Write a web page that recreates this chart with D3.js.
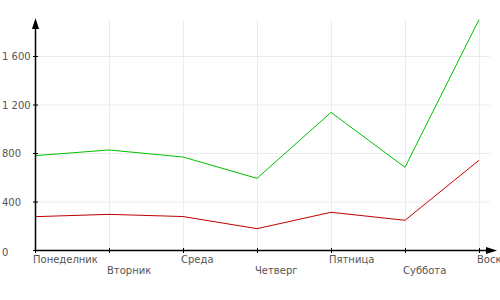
<!DOCTYPE html>
<html>
<head>
<meta charset="utf-8">
<script src="https://cdn.jsdelivr.net/npm/d3@7"></script>
<style>
  body { margin: 0; background: #fff; }
  text { font-family: "DejaVu Sans", Verdana, sans-serif; font-size: 10px; fill: #555; }
</style>
</head>
<body>
<div id="chart"></div>
<script>
var days = ["Понеделник", "Вторник", "Среда", "Четверг", "Пятница", "Суббота", "Воскресенье"];
var greenValues = [778, 825, 767, 591, 1135, 682, 1900];
var redValues = [275, 294, 276, 176, 311, 245, 740];
var yTicks = [0, 400, 800, 1200, 1600];

var width = 500, height = 300;
var margin = {top: 20, right: 21, bottom: 50, left: 35};

var svg = d3.select("#chart").append("svg")
    .attr("width", width)
    .attr("height", height);

var x = d3.scalePoint()
    .domain(days)
    .range([margin.left, 479]);

var y = d3.scaleLinear()
    .domain([0, 1897])
    .range([250, margin.top]);

var fmt = function (d) { return d3.format(",")(d).replace(",", " "); };

// grid
svg.append("g").selectAll("line.h")
    .data(yTicks.slice(1))
    .enter().append("line")
    .attr("x1", margin.left).attr("x2", 490)
    .attr("y1", function (d) { return y(d) + 0.5; })
    .attr("y2", function (d) { return y(d) + 0.5; })
    .attr("stroke", "#ececec");
svg.append("g").selectAll("line.v")
    .data(days.slice(1))
    .enter().append("line")
    .attr("x1", function (d) { return x(d) + 0.5; })
    .attr("x2", function (d) { return x(d) + 0.5; })
    .attr("y1", margin.top).attr("y2", 250)
    .attr("stroke", "#ececec");

// lines
var line = function (vals) {
    return d3.line()
        .x(function (d, i) { return x(days[i]); })
        .y(function (d) { return y(d); })(vals);
};
svg.append("path").attr("d", line(greenValues))
    .attr("fill", "none").attr("stroke", "#00c000").attr("stroke-width", 1);
svg.append("path").attr("d", line(redValues))
    .attr("fill", "none").attr("stroke", "#c00000").attr("stroke-width", 1);

// axes
svg.append("line")
    .attr("x1", margin.left + 0.5).attr("x2", margin.left + 0.5)
    .attr("y1", 24).attr("y2", 251)
    .attr("stroke", "#000").attr("stroke-width", 1.5);
svg.append("path")
    .attr("d", "M" + (margin.left + 0.5) + ",18 L" + (margin.left - 3) + ",29 L" + (margin.left + 4) + ",29 Z")
    .attr("fill", "#000");
svg.append("line")
    .attr("x1", margin.left).attr("x2", 490)
    .attr("y1", 250.5).attr("y2", 250.5)
    .attr("stroke", "#000").attr("stroke-width", 1.5);
svg.append("path")
    .attr("d", "M497,250.5 L486,247 L486,254 Z")
    .attr("fill", "#000");

// y ticks
var yt = svg.append("g").selectAll("g")
    .data(yTicks).enter().append("g");
yt.append("line")
    .attr("x1", margin.left - 2).attr("x2", margin.left + 3)
    .attr("y1", function (d) { return y(d) + 0.5; })
    .attr("y2", function (d) { return y(d) + 0.5; })
    .attr("stroke", "#000");
yt.append("text")
    .attr("x", 2)
    .attr("y", function (d) { return d === 0 ? y(d) + 6 : y(d) + 4; })
    .text(fmt);

// x ticks
var xt = svg.append("g").selectAll("g")
    .data(days).enter().append("g");
xt.append("line")
    .attr("x1", function (d) { return x(d) + 0.5; })
    .attr("x2", function (d) { return x(d) + 0.5; })
    .attr("y1", 248).attr("y2", 253)
    .attr("stroke", "#000");
xt.append("text")
    .attr("x", function (d) { return x(d) - 2; })
    .attr("y", function (d, i) { return i % 2 === 0 ? 263 : 274; })
    .text(function (d) { return d; });
</script>
</body>
</html>
